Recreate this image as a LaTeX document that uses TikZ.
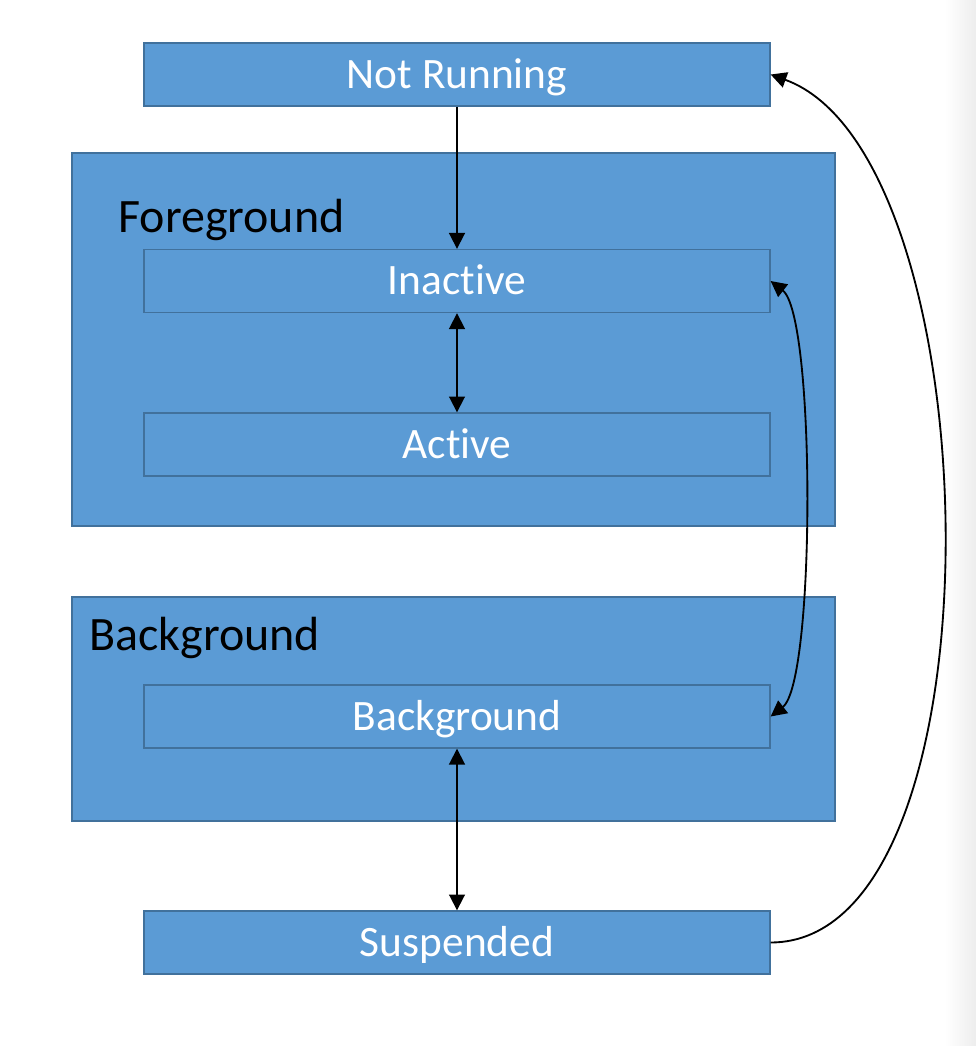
\documentclass[tikz,border=0pt]{standalone}
\usepackage{fontspec}
\setmainfont{Carlito}[Ligatures={NoCommon,NoContextual}]
\usetikzlibrary{arrows.meta}
\definecolor{boxblue}{RGB}{91,155,213}
\definecolor{boxedge}{RGB}{65,113,156}

\begin{document}
\begin{tikzpicture}[x=0.02cm, y=-0.02cm,
    outerbox/.style={draw=boxedge, line width=1.1pt, fill=boxblue, minimum width=15.26cm, inner sep=0pt},
    statebox/.style={draw=boxedge, line width=0.8pt, fill=boxblue, minimum width=12.52cm, minimum height=1.26cm,
        inner sep=0pt, text=white, text height=15.6pt, text depth=0pt, font=\fontsize{24.7}{28}\selectfont},
    grouplabel/.style={anchor=base west, inner sep=0pt, text=black, font=\fontsize{27.3}{32}\selectfont},
    link/.style={line width=1.05pt, -{Triangle[length=9pt,width=9pt]}},
    twoway/.style={line width=1.05pt, {Triangle[length=9pt,width=9pt]}-{Triangle[length=9pt,width=9pt]}}]
    % Canvas
    \useasboundingbox (0,0) rectangle (976,1046);
    \shade[left color=white, right color=black!7] (945,0) rectangle (976,1046);

    % Group frames
    \node[outerbox, minimum height=7.46cm] (foreground) at (453.5,339.5) {};
    \node[outerbox, minimum height=4.48cm] (background) at (453.5,709) {};
    \node[grouplabel] (fglabel) at (118,232) {Foreground};
    \node[grouplabel] (bglabel) at (89,650) {Background};

    % States
    \node[statebox] (notrunning) at (457,74.5) {Not Running};
    \node[statebox] (inactive) at (457,281) {Inactive};
    \node[statebox] (active) at (457,444.5) {Active};
    \node[statebox] (bgstate) at (457,716.5) {Background};
    \node[statebox] (suspended) at (457,942.5) {Suspended};

    % Transitions
    \draw[link] (notrunning) -- (inactive);
    \draw[twoway] (inactive) -- (active);
    \draw[twoway] (inactive.east) .. controls +(45,35) and +(45,-35) .. (bgstate.east);
    \draw[twoway] (bgstate) -- (suspended);
    \draw[link] (suspended.east) .. controls +(238,0) and +(224,81) .. (notrunning.east);
\end{tikzpicture}
\end{document}
